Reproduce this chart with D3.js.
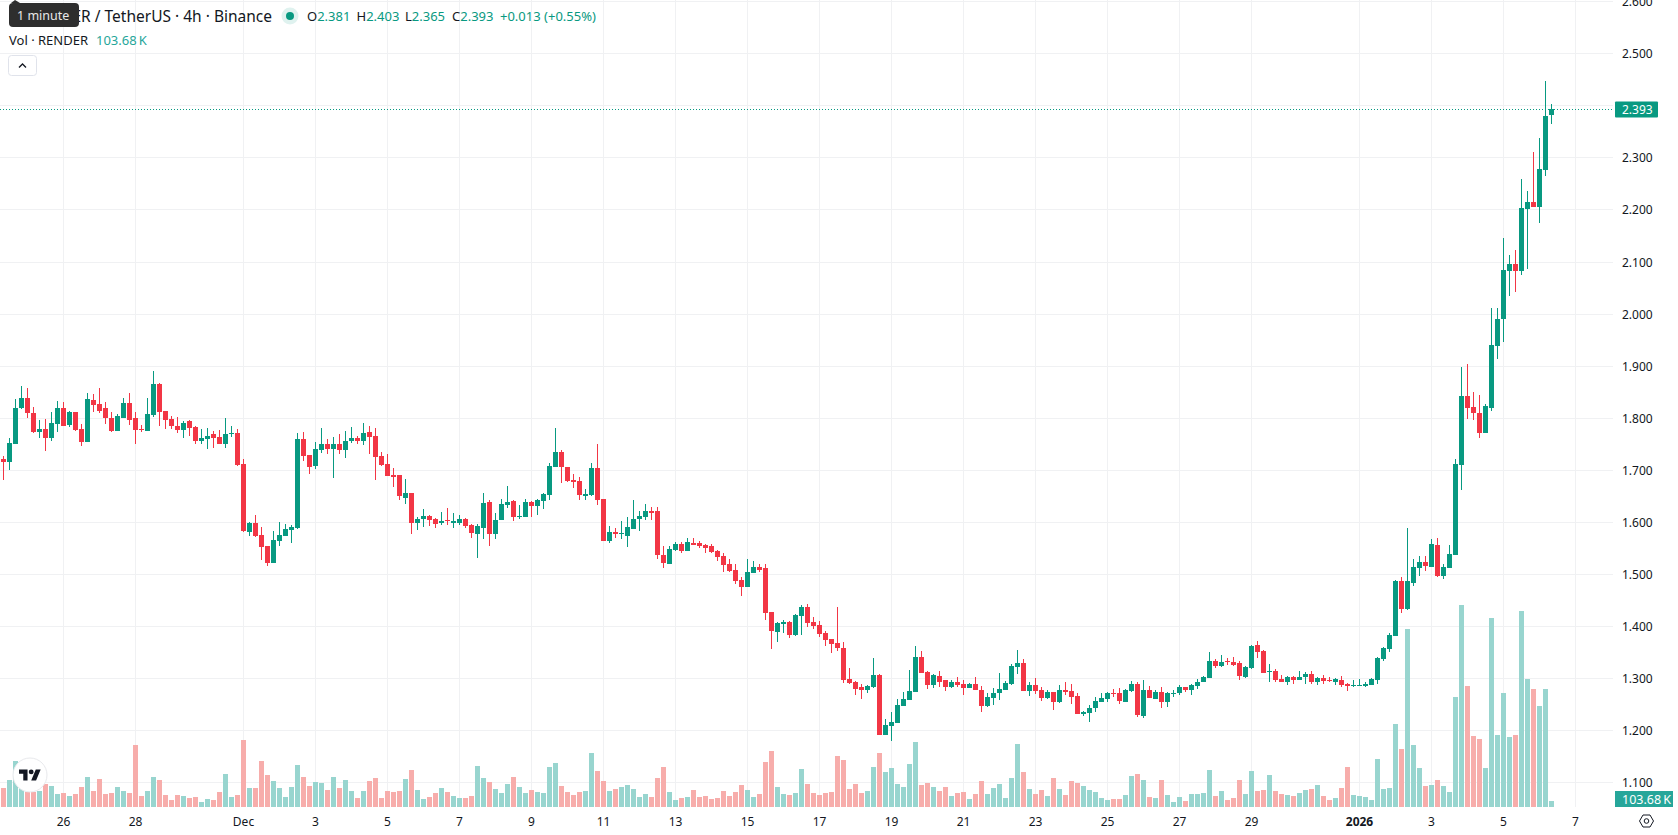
<!DOCTYPE html>
<html>
<head>
<meta charset="utf-8">
<title>RENDER / TetherUS 4h</title>
<script src="https://cdnjs.cloudflare.com/ajax/libs/d3/7.8.5/d3.min.js"></script>
<style>
html,body{margin:0;padding:0;background:#fff;overflow:hidden}
svg{display:block;font-family:"Noto Sans",sans-serif}
</style>
</head>
<body>
<svg id="chart" width="1678" height="835"></svg>
<script>
// Four-hour candles, oldest first
const opens = [
1.720,1.716,1.750,1.818,1.839,1.810,1.772,1.779,1.762,1.789,
1.818,1.787,1.812,1.779,1.754,1.835,1.827,1.818,1.800,1.775,
1.800,1.829,1.799,1.779,1.775,1.806,1.864,1.814,1.797,1.785,
1.777,1.793,1.783,1.756,1.760,1.768,1.764,1.749,1.768,1.770,
1.712,1.581,1.599,1.575,1.554,1.522,1.564,1.574,1.585,1.589,
1.760,1.728,1.708,1.739,1.749,1.741,1.749,1.739,1.756,1.762,
1.756,1.772,1.766,1.726,1.712,1.691,1.691,1.647,1.656,1.599,
1.605,1.612,1.605,1.599,1.603,1.599,1.599,1.605,1.595,1.576,
1.589,1.639,1.576,1.603,1.633,1.641,1.610,1.610,1.639,1.631,
1.641,1.651,1.706,1.735,1.706,1.680,1.678,1.649,1.651,1.703,
1.645,1.564,1.581,1.576,1.574,1.587,1.606,1.610,1.622,1.622,
1.537,1.520,1.547,1.558,1.545,1.560,1.560,1.556,1.553,1.545,
1.535,1.520,1.508,1.489,1.476,1.503,1.514,1.512,1.428,1.389,
1.404,1.408,1.383,1.420,1.437,1.408,1.403,1.387,1.376,1.368,
1.358,1.299,1.293,1.283,1.278,1.283,1.306,1.191,1.208,1.214,
1.247,1.258,1.274,1.341,1.312,1.287,1.304,1.297,1.283,1.293,
1.289,1.281,1.289,1.278,1.247,1.262,1.272,1.278,1.289,1.322,
1.330,1.276,1.287,1.278,1.262,1.274,1.254,1.278,1.276,1.266,
1.231,1.233,1.243,1.254,1.260,1.272,1.272,1.254,1.276,1.289,
1.228,1.278,1.260,1.274,1.254,1.270,1.272,1.283,1.278,1.285,
1.293,1.301,1.333,1.324,1.333,1.331,1.329,1.303,1.320,1.364,
1.353,1.312,1.314,1.299,1.293,1.303,1.297,1.303,1.308,1.293,
1.301,1.297,1.293,1.297,1.289,1.285,1.285,1.285,1.287,1.297,
1.337,1.356,1.381,1.487,1.433,1.483,1.512,1.524,1.514,1.556,
1.497,1.512,1.537,1.710,1.841,1.820,1.810,1.770,1.818,1.937,
1.990,2.082,2.096,2.082,2.201,2.214,2.205,2.276,2.381];

const highs = [
1.727,1.762,1.837,1.862,1.858,1.820,1.795,1.797,1.812,1.833,
1.831,1.814,1.812,1.789,1.847,1.845,1.858,1.831,1.812,1.808,
1.839,1.847,1.812,1.787,1.839,1.889,1.866,1.814,1.804,1.802,
1.793,1.795,1.785,1.779,1.781,1.774,1.777,1.800,1.785,1.779,
1.720,1.600,1.614,1.591,1.554,1.583,1.600,1.597,1.595,1.770,
1.772,1.728,1.753,1.781,1.760,1.764,1.768,1.774,1.783,1.766,
1.791,1.785,1.780,1.735,1.730,1.703,1.691,1.683,1.656,1.610,
1.624,1.614,1.608,1.620,1.626,1.618,1.614,1.608,1.597,1.597,
1.656,1.643,1.618,1.645,1.670,1.643,1.633,1.645,1.641,1.645,
1.655,1.714,1.781,1.739,1.706,1.693,1.687,1.664,1.714,1.749,
1.645,1.593,1.589,1.601,1.610,1.643,1.622,1.635,1.629,1.628,
1.554,1.554,1.562,1.562,1.570,1.570,1.564,1.558,1.558,1.547,
1.541,1.528,1.520,1.495,1.529,1.526,1.520,1.520,1.428,1.408,
1.412,1.410,1.424,1.441,1.443,1.418,1.410,1.391,1.376,1.437,
1.370,1.320,1.295,1.289,1.287,1.339,1.308,1.222,1.235,1.260,
1.274,1.316,1.362,1.353,1.314,1.308,1.314,1.297,1.297,1.303,
1.297,1.291,1.303,1.285,1.272,1.281,1.310,1.295,1.328,1.355,
1.337,1.293,1.301,1.283,1.278,1.274,1.287,1.293,1.289,1.272,
1.237,1.249,1.264,1.272,1.274,1.280,1.281,1.280,1.295,1.293,
1.297,1.285,1.278,1.283,1.274,1.278,1.287,1.283,1.289,1.299,
1.304,1.351,1.337,1.345,1.339,1.341,1.333,1.324,1.364,1.372,
1.354,1.328,1.318,1.306,1.304,1.304,1.314,1.312,1.314,1.303,
1.306,1.303,1.301,1.304,1.291,1.297,1.299,1.293,1.301,1.341,
1.360,1.387,1.489,1.495,1.589,1.528,1.535,1.535,1.568,1.570,
1.520,1.556,1.720,1.897,1.904,1.850,1.843,1.826,2.011,2.011,
2.145,2.113,2.122,2.258,2.236,2.310,2.337,2.446,2.403];

const lows = [
1.681,1.699,1.750,1.816,1.800,1.770,1.762,1.737,1.756,1.772,
1.785,1.783,1.774,1.745,1.754,1.812,1.810,1.789,1.772,1.775,
1.799,1.787,1.749,1.772,1.775,1.802,1.785,1.779,1.779,1.770,
1.762,1.766,1.749,1.750,1.741,1.743,1.749,1.743,1.764,1.708,
1.581,1.574,1.572,1.527,1.516,1.522,1.554,1.574,1.560,1.587,
1.718,1.693,1.701,1.733,1.731,1.685,1.730,1.722,1.751,1.749,
1.747,1.730,1.680,1.708,1.689,1.668,1.643,1.635,1.576,1.585,
1.591,1.593,1.589,1.595,1.595,1.589,1.595,1.589,1.570,1.530,
1.568,1.553,1.568,1.603,1.626,1.601,1.605,1.610,1.610,1.614,
1.624,1.643,1.706,1.674,1.676,1.666,1.643,1.643,1.649,1.633,
1.564,1.560,1.570,1.568,1.552,1.587,1.583,1.604,1.604,1.528,
1.512,1.520,1.545,1.541,1.545,1.556,1.551,1.541,1.541,1.526,
1.504,1.504,1.481,1.458,1.476,1.503,1.504,1.412,1.356,1.370,
1.387,1.378,1.381,1.383,1.399,1.395,1.379,1.362,1.349,1.353,
1.291,1.289,1.268,1.260,1.272,1.281,1.191,1.191,1.179,1.214,
1.247,1.258,1.274,1.310,1.279,1.281,1.283,1.276,1.281,1.283,
1.268,1.281,1.278,1.235,1.245,1.249,1.258,1.278,1.287,1.308,
1.276,1.266,1.270,1.256,1.260,1.239,1.252,1.268,1.251,1.231,
1.228,1.216,1.235,1.254,1.254,1.264,1.251,1.254,1.274,1.226,
1.224,1.262,1.260,1.243,1.245,1.264,1.268,1.274,1.268,1.280,
1.293,1.301,1.320,1.322,1.326,1.324,1.297,1.301,1.318,1.339,
1.310,1.293,1.293,1.293,1.287,1.289,1.297,1.289,1.289,1.287,
1.289,1.293,1.287,1.283,1.276,1.283,1.285,1.283,1.287,1.289,
1.333,1.351,1.381,1.426,1.431,1.478,1.497,1.505,1.514,1.495,
1.491,1.512,1.537,1.662,1.797,1.795,1.762,1.770,1.814,1.912,
1.946,2.034,2.042,2.075,2.086,2.205,2.174,2.264,2.365];

const closes = [
1.716,1.752,1.818,1.839,1.810,1.772,1.779,1.762,1.791,1.818,
1.785,1.812,1.777,1.754,1.837,1.825,1.814,1.799,1.775,1.804,
1.829,1.795,1.777,1.777,1.808,1.864,1.812,1.795,1.785,1.777,
1.791,1.781,1.756,1.762,1.766,1.762,1.749,1.768,1.770,1.710,
1.583,1.599,1.574,1.552,1.522,1.566,1.575,1.587,1.591,1.760,
1.726,1.706,1.741,1.749,1.741,1.749,1.739,1.756,1.762,1.756,
1.770,1.764,1.724,1.710,1.689,1.687,1.649,1.655,1.599,1.605,
1.612,1.603,1.597,1.601,1.601,1.601,1.605,1.593,1.578,1.593,
1.637,1.576,1.603,1.635,1.639,1.610,1.612,1.639,1.631,1.643,
1.653,1.708,1.735,1.705,1.678,1.676,1.651,1.653,1.703,1.643,
1.564,1.581,1.576,1.578,1.591,1.606,1.612,1.622,1.618,1.537,
1.522,1.549,1.558,1.545,1.562,1.556,1.553,1.551,1.543,1.533,
1.518,1.506,1.487,1.476,1.504,1.514,1.508,1.426,1.391,1.406,
1.408,1.383,1.422,1.437,1.406,1.401,1.385,1.374,1.366,1.358,
1.297,1.291,1.279,1.278,1.285,1.306,1.191,1.210,1.216,1.249,
1.260,1.276,1.341,1.310,1.287,1.306,1.293,1.283,1.293,1.287,
1.281,1.289,1.278,1.247,1.264,1.272,1.280,1.291,1.324,1.330,
1.276,1.287,1.276,1.262,1.274,1.254,1.278,1.274,1.264,1.231,
1.235,1.243,1.256,1.262,1.272,1.270,1.256,1.278,1.289,1.229,
1.278,1.262,1.274,1.254,1.272,1.272,1.283,1.278,1.287,1.293,
1.303,1.333,1.324,1.331,1.331,1.326,1.304,1.322,1.362,1.351,
1.310,1.314,1.297,1.293,1.303,1.297,1.303,1.308,1.293,1.301,
1.295,1.295,1.299,1.287,1.285,1.287,1.287,1.289,1.299,1.339,
1.358,1.383,1.487,1.433,1.487,1.514,1.524,1.516,1.558,1.497,
1.514,1.539,1.712,1.841,1.818,1.810,1.770,1.822,1.939,1.990,
2.084,2.096,2.082,2.203,2.214,2.205,2.278,2.379,2.393];

// Traded volume per candle, in thousands of RENDER
const volumes = [
328,467,795,467,259,259,276,397,363,225,
242,190,225,346,518,276,484,225,242,346,
276,242,1071,190,276,518,467,207,121,207,
190,156,173,86,138,121,259,570,173,207,
1158,328,328,795,553,449,328,173,346,726,
518,363,432,415,294,518,328,467,276,156,
276,449,501,156,276,259,276,484,639,294,
138,173,242,328,259,190,156,156,190,708,
501,432,311,242,397,518,346,242,294,259,
242,691,760,363,259,207,259,276,933,622,
449,276,311,346,380,311,173,225,173,501,
691,259,121,156,173,294,173,190,138,156,
276,190,259,380,294,173,225,778,968,346,
225,207,242,657,397,242,207,242,259,881,
812,311,397,242,276,691,933,605,674,397,
346,743,1123,380,415,346,276,346,190,242,
259,138,225,449,225,328,397,156,501,1089,
605,311,225,294,190,501,311,207,449,415,
363,294,259,156,121,138,138,207,536,570,
467,173,156,467,207,86,173,104,225,225,
242,639,190,276,121,156,467,225,622,276,
294,553,276,225,207,190,242,294,311,380,
190,121,156,328,691,207,190,173,121,829,
311,328,1434,1002,3076,1071,674,363,380,467,
363,259,1901,3491,2091,1227,1175,674,3266,1244,
1970,1210,1244,3387,2212,2039,1745,2039,103.68];

// Time axis: candle index and the label shown under it
const timeTickIndex = [10,22,40,52,64,76,88,100,112,124,136,148,160,172,184,196,208,226,238,250,262];
const timeTickLabels = ["26","28","Dec","3","5","7","9","11","13","15","17","19","21","23","25","27","29","2026","3","5","7"];
const boldTimeLabels = ["2026"];

const priceTicks = [1.1,1.2,1.3,1.4,1.5,1.6,1.7,1.8,1.9,2.0,2.1,2.2,2.3,2.4,2.5,2.6];
const lastPrice = 2.393;
const lastVolumeLabel = "103.68\u2009K";

const UP = "#089981", DOWN = "#F23645";
const VOL_UP = "#92d3cc", VOL_DOWN = "#f7a9a7";
const PANE_RIGHT = 1613, PANE_BOTTOM = 807;

const svg = d3.select("#chart");
const x = d3.scaleLinear().domain([0, 258]).range([3.5, 1551.5]);
const y = d3.scaleLinear().domain([1.1, 2.3]).range([782.4, 157.4]);
const yRound = y.copy().interpolate(d3.interpolateRound);
const vol = d3.scaleLinear().domain([0, 3491]).range([PANE_BOTTOM, 605]).interpolate(d3.interpolateRound);

const candles = opens.map((o, i) => ({
  i, o, h: highs[i], l: lows[i], c: closes[i], v: volumes[i], up: closes[i] >= o
}));

// Grid lines are the axes' own tick lines stretched across the pane
const priceAxis = d3.axisRight(yRound)
  .tickValues(priceTicks.filter(t => t !== 2.4))
  .tickFormat(d3.format(".3f"))
  .tickSize(-PANE_RIGHT)
  .tickPadding(9);
const timeAxis = d3.axisBottom(x)
  .tickValues(timeTickIndex)
  .tickFormat((d, i) => timeTickLabels[i])
  .tickSize(-PANE_BOTTOM)
  .tickPadding(10)
  .offset(0);

const gPrice = svg.append("g").attr("transform", `translate(${PANE_RIGHT},0)`).call(priceAxis);
const gTime = svg.append("g").attr("transform", `translate(0,${PANE_BOTTOM})`).call(timeAxis);
[gPrice, gTime].forEach(g => {
  g.select(".domain").remove();
  g.selectAll("line").attr("stroke", "#f0f1f3");
  g.selectAll("text").attr("fill", "#131722").attr("font-size", 12)
    .attr("font-family", '"Noto Sans",sans-serif');
});
gPrice.selectAll("text").attr("dy", "0.4em");
gTime.selectAll("text")
  .attr("font-weight", (d, i) => boldTimeLabels.includes(timeTickLabels[i]) ? 700 : 400);

// The 2.400 level has a grid line, its label sits behind the price tag
svg.append("line").attr("x1", 0).attr("x2", PANE_RIGHT)
  .attr("y1", yRound(2.4) + 0.5).attr("y2", yRound(2.4) + 0.5).attr("stroke", "#f0f1f3");

// Volume bars sit under the candles
svg.append("g").selectAll("rect").data(candles).join("rect")
  .attr("x", d => x(d.i) - 2.5)
  .attr("width", 5)
  .attr("y", d => vol(d.v))
  .attr("height", d => PANE_BOTTOM - vol(d.v))
  .attr("fill", d => d.up ? VOL_UP : VOL_DOWN)
  .attr("fill-opacity", 0.95);

// Wicks and bodies
const gCandles = svg.append("g");
gCandles.selectAll("rect.wick").data(candles).join("rect")
  .attr("class", "wick")
  .attr("x", d => x(d.i) - 0.5)
  .attr("width", 1)
  .attr("y", d => yRound(d.h))
  .attr("height", d => Math.max(1, yRound(d.l) - yRound(d.h)))
  .attr("fill", d => d.up ? UP : DOWN);
gCandles.selectAll("rect.body").data(candles).join("rect")
  .attr("class", "body")
  .attr("x", d => x(d.i) - 2.5)
  .attr("width", 5)
  .attr("y", d => yRound(Math.max(d.o, d.c)))
  .attr("height", d => Math.max(1, yRound(Math.min(d.o, d.c)) - yRound(Math.max(d.o, d.c))))
  .attr("fill", d => d.up ? UP : DOWN);

// Last price line and its tag
const lastY = yRound(lastPrice);
svg.append("line").attr("x1", 0).attr("x2", PANE_RIGHT)
  .attr("y1", lastY + 0.5).attr("y2", lastY + 0.5)
  .attr("stroke", UP).attr("stroke-width", 1).attr("stroke-dasharray", "1 2");
svg.append("rect").attr("x", 1615).attr("y", lastY - 7.5).attr("width", 43).attr("height", 16)
  .attr("rx", 1).attr("fill", UP);
svg.append("text").attr("x", 1622).attr("y", lastY + 4.8).attr("fill", "#fff")
  .attr("font-size", 12).text(d3.format(".3f")(lastPrice));

// Volume tag, resting on the pane's floor
svg.append("rect").attr("x", 1615).attr("y", 791).attr("width", 58).attr("height", 16)
  .attr("fill", "#26a69a");
svg.append("text").attr("x", 1622).attr("y", 803.5).attr("fill", "#fff")
  .attr("font-size", 12.5).text(lastVolumeLabel);

// Legend rows
const legend = svg.append("g");
legend.append("text").attr("x", 272).attr("y", 21.5).attr("text-anchor", "end")
  .attr("font-size", 15.5).attr("fill", "#131722")
  .text("RENDER / TetherUS · 4h · Binance");
legend.append("circle").attr("cx", 290).attr("cy", 16).attr("r", 8.5).attr("fill", "#dff2ef");
legend.append("circle").attr("cx", 290).attr("cy", 16).attr("r", 4).attr("fill", UP);

const ohlcItems = [["O", 2.381, 307], ["H", 2.403, 356.5], ["L", 2.365, 405], ["C", 2.393, 452]];
ohlcItems.forEach(([name, value, px]) => {
  const t = legend.append("text").attr("x", px).attr("y", 20.5).attr("font-size", 13);
  t.append("tspan").attr("fill", "#131722").text(name);
  t.append("tspan").attr("fill", UP).text(d3.format(".3f")(value));
});
legend.append("text").attr("x", 500).attr("y", 20.5).attr("font-size", 13).attr("fill", UP)
  .text("+0.013 (+0.55%)");
legend.append("text").attr("x", 9).attr("y", 45).attr("font-size", 13).attr("fill", "#131722")
  .text("Vol · RENDER");
legend.append("text").attr("x", 96).attr("y", 45).attr("font-size", 13).attr("fill", "#26a69a")
  .text(lastVolumeLabel);

// Collapse button
legend.append("rect").attr("x", 8.5).attr("y", 55.5).attr("width", 28).attr("height", 20).attr("rx", 3)
  .attr("fill", "#fff").attr("stroke", "#e0e3eb");
legend.append("path").attr("d", "M19 67.5l3.5-3.5 3.5 3.5").attr("fill", "none")
  .attr("stroke", "#131722").attr("stroke-width", 1.3);

// Hover tooltip over the start of the legend
const tip = svg.append("g");
tip.append("path").attr("d", "M11 3l4-3 5 3z").attr("fill", "#2e2e2e");
tip.append("rect").attr("x", 9).attr("y", 3).attr("width", 70).attr("height", 24).attr("rx", 4)
  .attr("fill", "#2e2e2e");
tip.append("text").attr("x", 17).attr("y", 19.5).attr("font-size", 12.5).attr("fill", "#e8e8e8")
  .text("1 minute");

// Watermark badge
const badge = svg.append("g").attr("transform", "translate(30,775)");
badge.append("circle").attr("r", 17).attr("fill", "#fff").attr("stroke", "#e8e9ec").attr("stroke-width", 1);
const mark = badge.append("g").attr("transform", "translate(-11,-8) scale(0.61)").attr("fill", "#131722");
mark.append("path").attr("d", "M14 22H7V11H0V4h14v18zM28 22h-8l7.5-18h8L28 22z");
mark.append("circle").attr("cx", 20).attr("cy", 8).attr("r", 4);

// Settings cog in the corner between the axes
const cog = svg.append("g").attr("transform", "translate(1646.5,821)")
  .attr("fill", "none").attr("stroke", "#131722").attr("stroke-width", 1);
cog.append("path").attr("d", "M-7 0L-3.5-6H3.5L7 0L3.5 6H-3.5Z");
cog.append("circle").attr("r", 2.3);
</script>
</body>
</html>
